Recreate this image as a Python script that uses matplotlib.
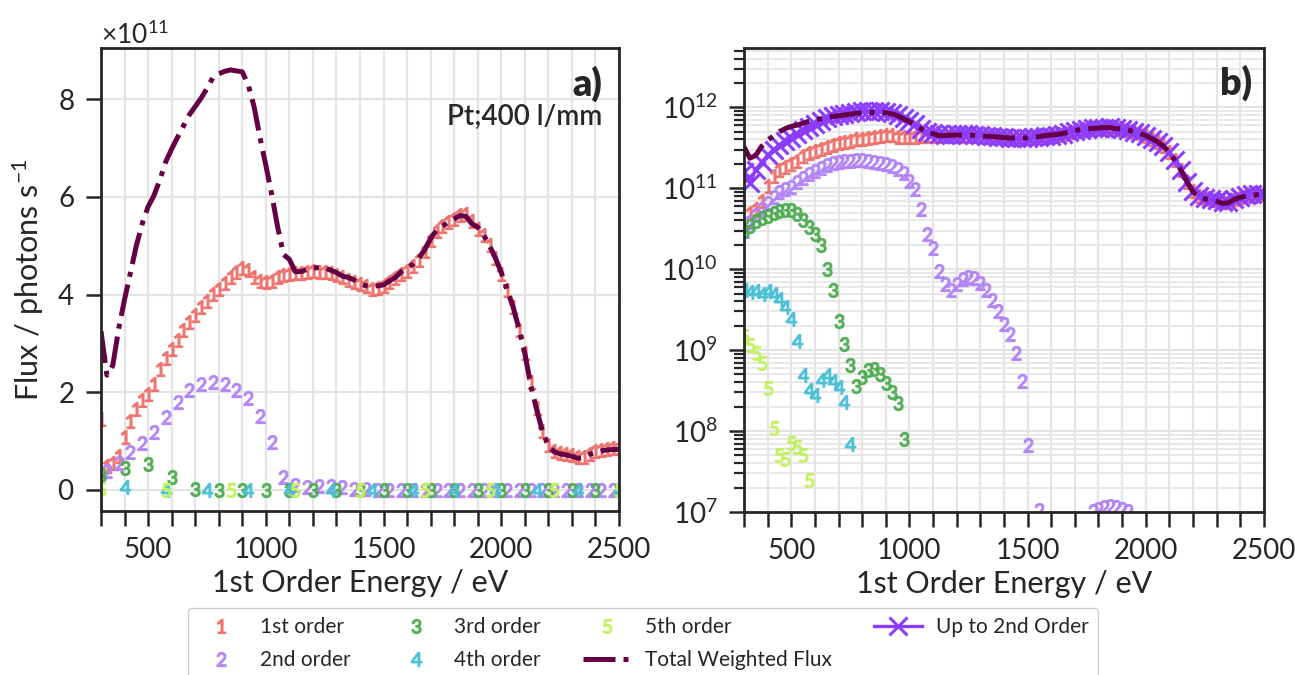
import matplotlib

matplotlib.use("Agg")
import matplotlib.pyplot as plt
import numpy as np
from matplotlib.ticker import LogLocator, MultipleLocator, NullFormatter

plt.rcParams["font.family"] = ["Lato", "DejaVu Sans"]
plt.rcParams["mathtext.default"] = "regular"
plt.rcParams["axes.edgecolor"] = "#262626"
plt.rcParams["axes.linewidth"] = 2.0
plt.rcParams["text.color"] = "#262626"
plt.rcParams["axes.labelcolor"] = "#262626"
plt.rcParams["xtick.color"] = "#262626"
plt.rcParams["ytick.color"] = "#262626"

# flux values are stored in units of 1e11 photons/s on a 25 eV grid (300..2500 eV)
SCALE = 1e11
energy = np.arange(300, 2501, 25)

order1 = [
    1.45, 0.50, 0.55, 0.70, 1.08, 1.42, 1.66, 1.84, 1.97, 2.17,
    2.47, 2.71, 2.89, 3.07, 3.27, 3.43, 3.58, 3.75, 3.87, 4.01,
    4.11, 4.23, 4.35, 4.47, 4.55, 4.50, 4.35, 4.27, 4.25, 4.28,
    4.36, 4.40, 4.43, 4.44, 4.45, 4.47, 4.48, 4.47, 4.46, 4.44,
    4.40, 4.35, 4.30, 4.26, 4.22, 4.17, 4.12, 4.13, 4.18, 4.25,
    4.33, 4.42, 4.48, 4.58, 4.70, 4.90, 5.12, 5.30, 5.40, 5.48,
    5.55, 5.62, 5.65, 5.50, 5.35, 5.22, 5.02, 4.75, 4.42, 4.10,
    3.75, 3.28, 2.80, 2.22, 1.68, 1.20, 0.92, 0.80, 0.76, 0.74,
    0.71, 0.68, 0.67, 0.74, 0.79, 0.82, 0.84, 0.86, 0.86,
]
order2 = [
    0.30, 0.38, 0.47, 0.56, 0.66, 0.78, 0.90, 0.97, 1.05, 1.18,
    1.34, 1.50, 1.65, 1.80, 1.94, 2.04, 2.12, 2.17, 2.19, 2.21,
    2.21, 2.17, 2.11, 2.05, 1.97, 1.88, 1.75, 1.52, 1.22, 0.98,
    0.55, 0.27, 0.18, 0.095, 0.066, 0.056, 0.065, 0.075, 0.080, 0.077,
    0.068, 0.055, 0.042, 0.030, 0.021, 0.016, 0.0092, 0.0041, 0.00068, 0.00006,
    0.000105, 0.00005, 0.00003, 0.00003, 0.00003, 0.00004, 0.00005, 0.00006, 0.00008, 0.000102,
    0.000110, 0.000115, 0.000117, 0.000115, 0.000110, 0.000102, 0.00007, 0.00005, 0.00004, 0.00003,
    0.00003, 0.00003, 0.00003, 0.00003, 0.00003, 0.00003, 0.00003, 0.00003, 0.00003, 0.00003,
    0.00003, 0.00003, 0.00003, 0.00003, 0.00003, 0.00003, 0.00003, 0.00003, 0.00003,
]
order3 = [
    0.30, 0.34, 0.39, 0.43, 0.46, 0.49, 0.52, 0.54, 0.54, 0.48,
    0.40, 0.33, 0.27, 0.20, 0.10, 0.055, 0.023, 0.012, 0.0065, 0.0036,
    0.0046, 0.0057, 0.0058, 0.0050, 0.0039, 0.0030, 0.0022, 0.0008, 0.0, 0.0,
    0.0, 0.0, 0.0, 0.0, 0.0, 0.0, 0.0, 0.0, 0.0, 0.0,
    0.0, 0.0, 0.0, 0.0, 0.0, 0.0, 0.0, 0.0, 0.0, 0.0,
    0.0, 0.0, 0.0, 0.0, 0.0, 0.0, 0.0, 0.0, 0.0, 0.0,
    0.0, 0.0, 0.0, 0.0, 0.0, 0.0, 0.0, 0.0, 0.0, 0.0,
    0.0, 0.0, 0.0, 0.0, 0.0, 0.0, 0.0, 0.0, 0.0, 0.0,
    0.0, 0.0, 0.0, 0.0, 0.0, 0.0, 0.0, 0.0, 0.0,
]
order4 = [
    0.055, 0.052, 0.054, 0.050, 0.053, 0.050, 0.043, 0.034, 0.024, 0.013,
    0.0049, 0.0032, 0.0028, 0.0043, 0.0049, 0.0042, 0.0035, 0.0023, 0.0007, 0.0,
    0.0, 0.0, 0.0, 0.0, 0.0, 0.0, 0.0, 0.0, 0.0, 0.0,
    0.0, 0.0, 0.0, 0.0, 0.0, 0.0, 0.0, 0.0, 0.0, 0.0,
    0.0, 0.0, 0.0, 0.0, 0.0, 0.0, 0.0, 0.0, 0.0, 0.0,
    0.0, 0.0, 0.0, 0.0, 0.0, 0.0, 0.0, 0.0, 0.0, 0.0,
    0.0, 0.0, 0.0, 0.0, 0.0, 0.0, 0.0, 0.0, 0.0, 0.0,
    0.0, 0.0, 0.0, 0.0, 0.0, 0.0, 0.0, 0.0, 0.0, 0.0,
    0.0, 0.0, 0.0, 0.0, 0.0, 0.0, 0.0, 0.0, 0.0,
]
order5 = [
    0.015, 0.0115, 0.0092, 0.0070, 0.0034, 0.0011, 0.0005, 0.00045, 0.00072, 0.00063,
    0.0005, 0.00025, 0.0, 0.0, 0.0, 0.0, 0.0, 0.0, 0.0, 0.0,
    0.0, 0.0, 0.0, 0.0, 0.0, 0.0, 0.0, 0.0, 0.0, 0.0,
    0.0, 0.0, 0.0, 0.0, 0.0, 0.0, 0.0, 0.0, 0.0, 0.0,
    0.0, 0.0, 0.0, 0.0, 0.0, 0.0, 0.0, 0.0, 0.0, 0.0,
    0.0, 0.0, 0.0, 0.0, 0.0, 0.0, 0.0, 0.0, 0.0, 0.0,
    0.0, 0.0, 0.0, 0.0, 0.0, 0.0, 0.0, 0.0, 0.0, 0.0,
    0.0, 0.0, 0.0, 0.0, 0.0, 0.0, 0.0, 0.0, 0.0, 0.0,
    0.0, 0.0, 0.0, 0.0, 0.0, 0.0, 0.0, 0.0, 0.0,
]
total_flux = [
    3.25, 2.35, 2.55, 3.30, 3.90, 4.45, 5.00, 5.45, 5.80, 6.03,
    6.35, 6.72, 6.98, 7.22, 7.45, 7.68, 7.85, 8.02, 8.22, 8.44,
    8.52, 8.57, 8.60, 8.58, 8.56, 8.30, 7.85, 7.22, 6.65, 6.05,
    5.39, 4.82, 4.72, 4.47, 4.47, 4.52, 4.55, 4.55, 4.55, 4.50,
    4.45, 4.38, 4.35, 4.30, 4.22, 4.18, 4.17, 4.18, 4.20, 4.28,
    4.35, 4.47, 4.55, 4.62, 4.75, 4.92, 5.15, 5.32, 5.40, 5.48,
    5.55, 5.62, 5.60, 5.45, 5.38, 5.22, 5.00, 4.75, 4.45, 4.10,
    3.75, 3.30, 2.80, 2.15, 1.65, 1.20, 0.90, 0.78, 0.74, 0.72,
    0.69, 0.65, 0.66, 0.73, 0.77, 0.80, 0.82, 0.83, 0.83,
]
up_to_second = [
    1.60, 1.15, 1.70, 2.10, 2.55, 3.00, 3.45, 3.85, 4.20, 4.65,
    5.20, 5.75, 6.30, 6.85, 7.30, 7.70, 8.05, 8.35, 8.60, 8.80,
    8.90, 8.95, 8.95, 8.90, 8.80, 8.50, 8.00, 7.40, 6.80, 6.20,
    5.40, 4.92, 4.80, 4.65, 4.60, 4.60, 4.62, 4.62, 4.62, 4.58,
    4.53, 4.46, 4.39, 4.32, 4.26, 4.20, 4.14, 4.14, 4.18, 4.25,
    4.33, 4.42, 4.48, 4.58, 4.70, 4.90, 5.12, 5.30, 5.40, 5.48,
    5.55, 5.62, 5.65, 5.50, 5.35, 5.22, 5.02, 4.75, 4.42, 4.10,
    3.75, 3.28, 2.80, 2.22, 1.68, 1.20, 0.92, 0.80, 0.76, 0.74,
    0.71, 0.68, 0.67, 0.74, 0.79, 0.82, 0.84, 0.86, 0.86,
]

orders = [order1, order2, order3, order4, order5]
order_labels = ["1st order", "2nd order", "3rd order", "4th order", "5th order"]
order_colours = ["#ee6f69", "#b183f7", "#4dad52", "#48c0d6", "#c2f25e"]
# left panel thins the higher orders, the log panel shows every point
left_every = [1, (1, 2), 4, (4, 7), (0, 11)]
total_colour = "#650046"
up2_colour = "#8c3cff"
grid_colour = "#e4e4e4"


def style_axis(ax):
    ax.set_xlim(300, 2500)
    ax.xaxis.set_major_locator(MultipleLocator(500))
    ax.xaxis.set_minor_locator(MultipleLocator(100))
    ax.tick_params(which="both", direction="out", length=11, width=1.8, labelsize=20, pad=8)
    ax.grid(which="major", color=grid_colour, linewidth=1.6)
    ax.grid(which="minor", axis="x", color=grid_colour, linewidth=1.6)
    ax.set_axisbelow(True)
    ax.set_xlabel("1st Order Energy / eV", fontsize=22, labelpad=4)


fig = plt.figure(figsize=(12.95, 6.75), dpi=100, facecolor="white")
ax_lin = fig.add_axes([0.078, 0.243, 0.400, 0.686])
ax_log = fig.add_axes([0.5745, 0.2415, 0.4015, 0.6874])

handles = []
for n, (values, label, colour, every) in enumerate(zip(orders, order_labels, order_colours, left_every), start=1):
    flux = np.array(values) * SCALE
    (h,) = ax_lin.plot(energy, flux, linestyle="none", marker=f"${n}$", markersize=10,
                       color=colour, alpha=0.9, markevery=every, label=label)
    handles.append(h)
    ax_log.plot(energy, np.where(flux > 0, flux, np.nan), linestyle="none", marker=f"${n}$",
                markersize=10, color=colour, alpha=0.9)

(h_up2,) = ax_log.plot(energy, np.array(up_to_second) * SCALE, color=up2_colour, linewidth=2.4,
                       marker="x", markersize=13, markeredgewidth=2.2, label="Up to 2nd Order")
(h_total,) = ax_lin.plot(energy, np.array(total_flux) * SCALE, color=total_colour, linewidth=3.6,
                         linestyle="-.", label="Total Weighted Flux")
ax_log.plot(energy, np.array(total_flux) * SCALE, color=total_colour, linewidth=3.6, linestyle="-.")
handles += [h_total, h_up2]

# panel a) linear
style_axis(ax_lin)
ax_lin.set_ylim(-0.43e11, 9.05e11)
ax_lin.yaxis.set_major_locator(MultipleLocator(2e11))
ax_lin.ticklabel_format(axis="y", style="sci", scilimits=(0, 0), useMathText=True)
ax_lin.yaxis.get_offset_text().set_fontsize(19)
ax_lin.set_ylabel("Flux / photons s$^{-1}$", fontsize=22, labelpad=8)
ax_lin.text(0.967, 0.922, "a)", transform=ax_lin.transAxes, ha="right", va="center",
            fontsize=27, fontweight="heavy")
ax_lin.text(0.967, 0.851, "Pt;400 l/mm", transform=ax_lin.transAxes, ha="right", va="center",
            fontsize=20, fontweight="semibold")

# panel b) log
style_axis(ax_log)
ax_log.set_yscale("log")
ax_log.set_ylim(1e7, 5.4e12)
ax_log.yaxis.set_major_locator(LogLocator(base=10, numticks=12))
ax_log.yaxis.set_minor_locator(LogLocator(base=10, subs=np.arange(2, 10), numticks=12))
ax_log.yaxis.set_minor_formatter(NullFormatter())
ax_log.tick_params(axis="y", which="minor", length=7, width=1.6)
ax_log.grid(which="minor", axis="y", color=grid_colour, linewidth=1.2)
ax_log.text(0.977, 0.925, "b)", transform=ax_log.transAxes, ha="right", va="center",
            fontsize=27, fontweight="heavy")

fig.legend(handles, [h.get_label() for h in handles], loc="upper center",
           bbox_to_anchor=(0.4965, 0.1), borderaxespad=0.0, ncol=4, fontsize=15, frameon=True,
           edgecolor="#cccccc", framealpha=1.0, handlelength=2.3, columnspacing=2.0,
           handletextpad=0.7, borderpad=0.45, labelspacing=0.62)

fig.savefig("out.png", dpi=100, facecolor="white")
